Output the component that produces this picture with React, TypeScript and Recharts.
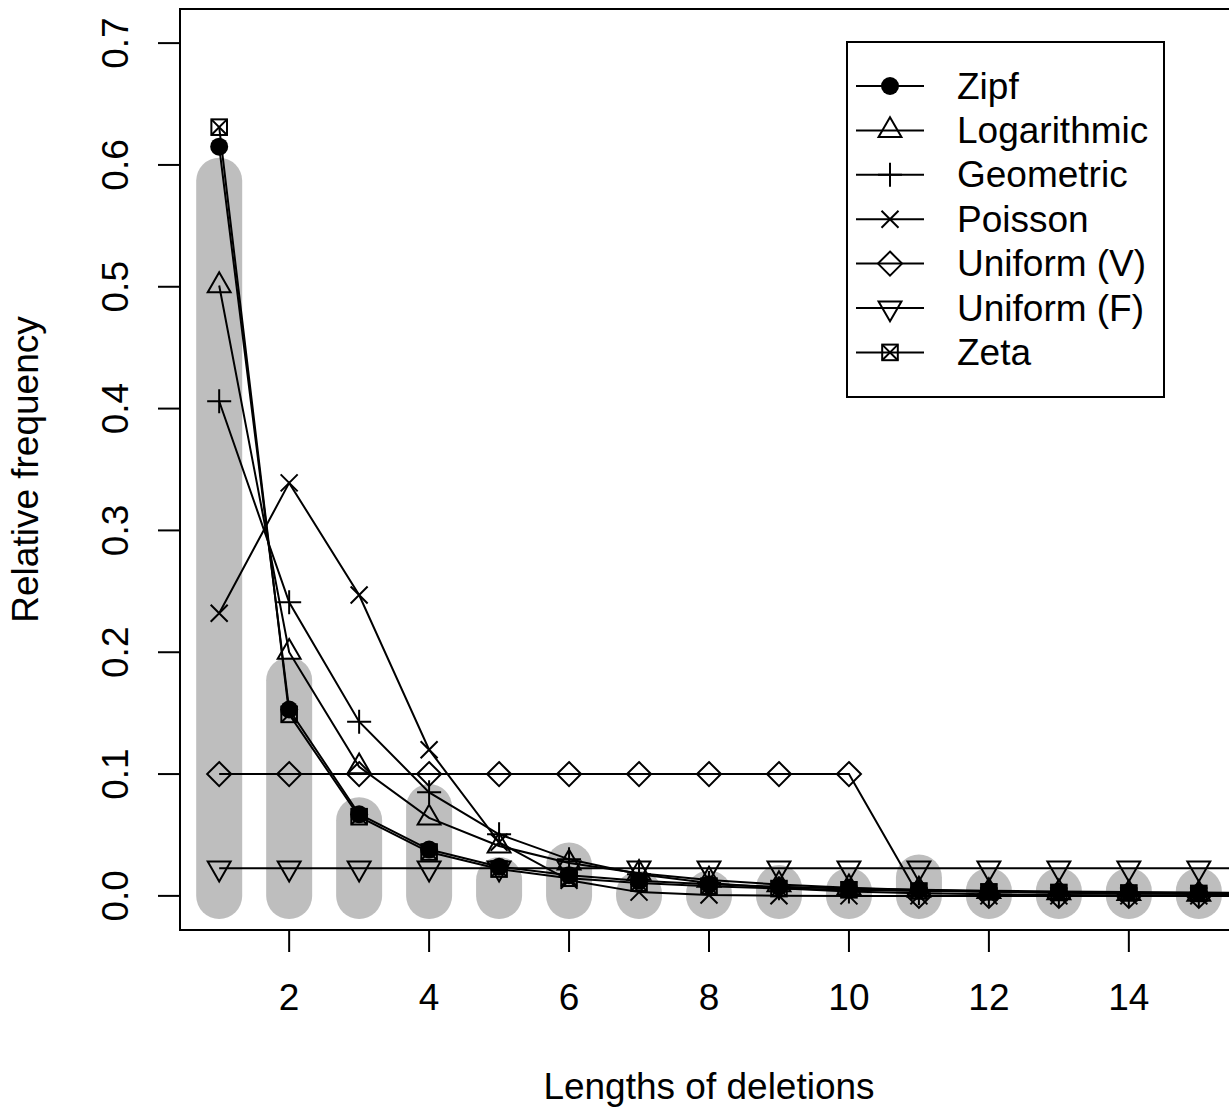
import React from 'react';
import { ComposedChart, Bar, Line, XAxis, YAxis, ReferenceArea, Legend } from 'recharts';

// deletion lengths (16 only so the lines run off the right edge like in R)
const lengths = [1, 2, 3, 4, 5, 6, 7, 8, 9, 10, 11, 12, 13, 14, 15, 16];
const observed = [0.587, 0.177, 0.062, 0.073, 0.013, 0.025, 0.002, 0.002, 0.0065, 0.004, 0.015, 0.004, 0.004, 0.004, 0.004, null];
const zipf = [0.615, 0.153, 0.067, 0.038, 0.024, 0.017, 0.0125, 0.0095, 0.0075, 0.006, 0.005, 0.0042, 0.0036, 0.0031, 0.0027, 0.0024];
const logarithmic = [0.501, 0.2, 0.106, 0.064, 0.041, 0.027, 0.0186, 0.013, 0.0093, 0.0067, 0.0049, 0.0036, 0.0026, 0.002, 0.0015, 0.0011];
const geometric = [0.406, 0.241, 0.143, 0.085, 0.0506, 0.03, 0.0178, 0.0106, 0.0063, 0.0037, 0.0022, 0.0013, 0.0008, 0.0005, 0.0003, 0.0002];
const poisson = [0.232, 0.339, 0.247, 0.12, 0.044, 0.0128, 0.0031, 0.0007, 0.0001, 0, 0, 0, 0, 0, 0, 0];
const uniformV = [0.1, 0.1, 0.1, 0.1, 0.1, 0.1, 0.1, 0.1, 0.1, 0.1, 0, 0, 0, 0, 0, 0];
const uniformF = [0.0227, 0.0227, 0.0227, 0.0227, 0.0227, 0.0227, 0.0227, 0.0227, 0.0227, 0.0227, 0.0227, 0.0227, 0.0227, 0.0227, 0.0227, 0.0227];
const zeta = [0.631, 0.149, 0.065, 0.036, 0.022, 0.0145, 0.0105, 0.008, 0.006, 0.005, 0.004, 0.0033, 0.0028, 0.0024, 0.002, 0.0018];

const xTicks = [2, 4, 6, 8, 10, 12, 14];
const yTicks = [0, 0.1, 0.2, 0.3, 0.4, 0.5, 0.6, 0.7];

const data = lengths.map((len, i) => ({
  len,
  observed: observed[i],
  zipf: zipf[i],
  logarithmic: logarithmic[i],
  geometric: geometric[i],
  poisson: poisson[i],
  uniformV: uniformV[i],
  uniformF: uniformF[i],
  zeta: zeta[i],
}));

const FONT = '"Liberation Sans", Arial, Helvetica, sans-serif';
const FS = 37;
const R = 8.5; // R's symbol radius at this size

// R pch symbols
function Symbol({ kind, cx, cy }: { kind: string; cx: number; cy: number }) {
  const s = { stroke: '#000', strokeWidth: 2, fill: 'none' };
  switch (kind) {
    case 'circle':
      return <circle cx={cx} cy={cy} r={9} fill="#000" />;
    case 'up': {
      const r = 1.555 * R, xc = 1.347 * R, yc = 0.778 * R;
      return <polygon points={`${cx},${cy - r} ${cx - xc},${cy + yc} ${cx + xc},${cy + yc}`} {...s} />;
    }
    case 'down': {
      const r = 1.555 * R, xc = 1.347 * R, yc = 0.778 * R;
      return <polygon points={`${cx},${cy + r} ${cx - xc},${cy - yc} ${cx + xc},${cy - yc}`} {...s} />;
    }
    case 'plus': {
      const a = 1.414 * R;
      return <path d={`M${cx - a},${cy}H${cx + a}M${cx},${cy - a}V${cy + a}`} {...s} />;
    }
    case 'cross': {
      const a = R;
      return <path d={`M${cx - a},${cy - a}L${cx + a},${cy + a}M${cx - a},${cy + a}L${cx + a},${cy - a}`} {...s} />;
    }
    case 'diamond': {
      const a = 1.414 * R;
      return <polygon points={`${cx},${cy - a} ${cx + a},${cy} ${cx},${cy + a} ${cx - a},${cy}`} {...s} />;
    }
    case 'boxx': {
      const a = 7.8;
      return (
        <g>
          <rect x={cx - a} y={cy - a} width={2 * a} height={2 * a} {...s} />
          <path d={`M${cx - a},${cy - a}L${cx + a},${cy + a}M${cx - a},${cy + a}L${cx + a},${cy - a}`} {...s} />
        </g>
      );
    }
  }
  return null;
}

const series = [
  { key: 'zipf', name: 'Zipf', sym: 'circle' },
  { key: 'logarithmic', name: 'Logarithmic', sym: 'up' },
  { key: 'geometric', name: 'Geometric', sym: 'plus' },
  { key: 'poisson', name: 'Poisson', sym: 'cross' },
  { key: 'uniformV', name: 'Uniform (V)', sym: 'diamond' },
  { key: 'uniformF', name: 'Uniform (F)', sym: 'down' },
  { key: 'zeta', name: 'Zeta', sym: 'boxx' },
];

// thick gray "type h" line with round caps
const RoundBar = (props: any) => {
  const { x, y, width, height } = props;
  if (x == null || y == null) return null;
  return <rect x={x} y={y - width / 2} width={width} height={Math.max(height, 0) + width} rx={width / 2} fill="#bebebe" />;
};

const XTick = (props: any) => {
  const { x, y, payload } = props;
  return (
    <text x={x} y={y + 58} textAnchor="middle" fontFamily={FONT} fontSize={FS} fill="#000">
      {payload.value}
    </text>
  );
};

const YTick = (props: any) => {
  const { x, y, payload } = props;
  const bx = x - 30;
  return (
    <text x={bx} y={y} transform={`rotate(-90, ${bx}, ${y})`} textAnchor="middle" fontFamily={FONT} fontSize={FS} fill="#000">
      {payload.value.toFixed(1)}
    </text>
  );
};

const LegendBox = () => (
  <svg width={320} height={358} style={{ display: 'block' }}>
    <rect x={1} y={1} width={317} height={355} fill="#fff" stroke="#000" strokeWidth={2} />
    {series.map((s, i) => {
      const cy = 45 + i * 44.4;
      return (
        <g key={s.key}>
          <line x1={10} x2={78} y1={cy} y2={cy} stroke="#000" strokeWidth={2} />
          <Symbol kind={s.sym} cx={44} cy={cy} />
          <text x={111} y={cy + 12.5} fontFamily={FONT} fontSize={FS} fill="#000">
            {s.name}
          </text>
        </g>
      );
    })}
  </svg>
);

export default function App() {
  return (
    <div style={{ position: 'absolute', left: 0, top: 0, width: 1229, height: 1107, overflow: 'hidden', background: '#fff' }}>
      <ComposedChart width={1260} height={1107} data={data} margin={{ top: 9, right: 22, bottom: 0, left: 0 }}>
        <XAxis
          dataKey="len"
          type="number"
          domain={[0.44, 15.56]}
          allowDataOverflow
          ticks={xTicks}
          interval={0}
          height={177}
          tickSize={22}
          tickMargin={0}
          axisLine={false}
          tickLine={{ stroke: '#000', strokeWidth: 2 }}
          tick={<XTick />}
          label={{
            content: (p: any) => {
              const vb = p.viewBox;
              return (
                <text x={vb.x + vb.width / 2} y={vb.y + 169} textAnchor="middle" fontFamily={FONT} fontSize={FS} fill="#000">
                  Lengths of deletions
                </text>
              );
            },
          }}
        />
        <YAxis
          type="number"
          domain={[-0.028, 0.728]}
          allowDataOverflow
          ticks={yTicks}
          interval={0}
          width={180}
          tickSize={22}
          tickMargin={0}
          axisLine={false}
          tickLine={{ stroke: '#000', strokeWidth: 2 }}
          tick={<YTick />}
          label={{
            content: (p: any) => {
              const vb = p.viewBox;
              const cy = vb.y + vb.height / 2;
              return (
                <text x={38} y={cy} transform={`rotate(-90, 38, ${cy})`} textAnchor="middle" fontFamily={FONT} fontSize={FS} fill="#000">
                  Relative frequency
                </text>
              );
            },
          }}
        />
        <Bar dataKey="observed" barSize={46} fill="#bebebe" shape={RoundBar} isAnimationActive={false} legendType="none" />
        {series.map((s) => (
          <Line
            key={s.key}
            dataKey={s.key}
            name={s.name}
            type="linear"
            stroke="#000"
            strokeWidth={2}
            isAnimationActive={false}
            dot={(p: any) => <Symbol key={`${s.key}-${p.index}`} kind={s.sym} cx={p.cx} cy={p.cy} />}
            activeDot={false}
          />
        ))}
        <ReferenceArea x1={0.44} x2={15.56} y1={-0.028} y2={0.728} fill="none" fillOpacity={0} stroke="#000" strokeWidth={2} ifOverflow="visible" />
        <Legend
          layout="horizontal"
          align="center"
          verticalAlign="middle"
          content={<LegendBox />}
          wrapperStyle={{ position: 'absolute', left: 846, top: 41, width: 320, height: 358, bottom: 'auto', right: 'auto' }}
        />
      </ComposedChart>
    </div>
  );
}
